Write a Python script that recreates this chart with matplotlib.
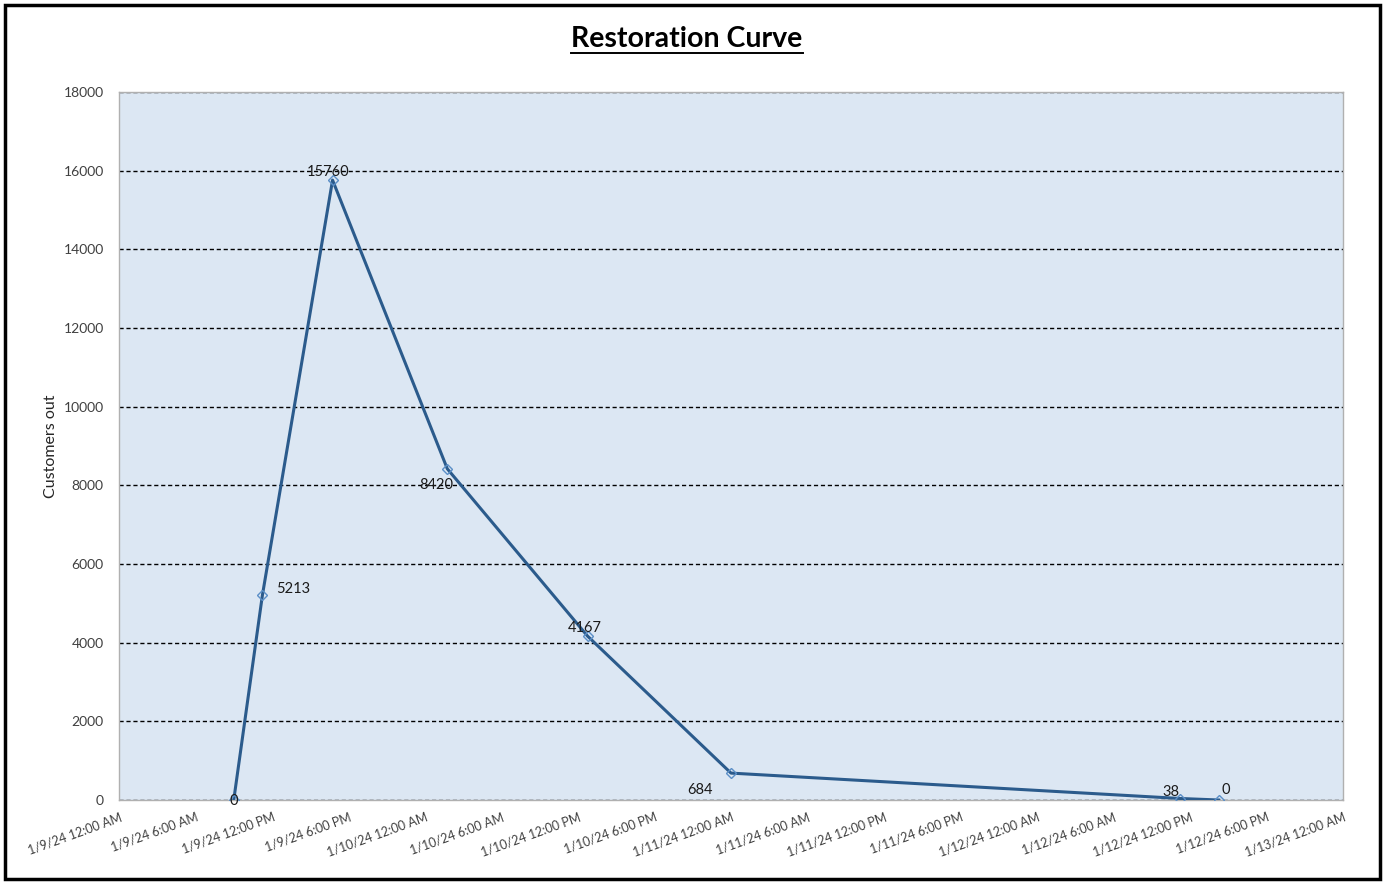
import datetime as dt
import matplotlib
matplotlib.use("Agg")
import matplotlib.pyplot as plt
import matplotlib.dates as mdates
from matplotlib.patches import Rectangle
from matplotlib.lines import Line2D

plt.rcParams['font.family'] = ['Lato', 'DejaVu Sans']

# data
times = [
    dt.datetime(2024, 1, 9, 9, 0),
    dt.datetime(2024, 1, 9, 11, 15),
    dt.datetime(2024, 1, 9, 16, 45),
    dt.datetime(2024, 1, 10, 1, 45),
    dt.datetime(2024, 1, 10, 12, 45),
    dt.datetime(2024, 1, 11, 0, 0),
    dt.datetime(2024, 1, 12, 11, 15),
    dt.datetime(2024, 1, 12, 14, 15),
]
customers_out = [0, 5213, 15760, 8420, 4167, 684, 38, 0]
# label offsets in points (dx, dy) to mimic the Excel placement
label_offsets = [(0, -1), (22, 4), (-3, 6), (-8, -12), (-2, 6), (-22, -12), (-7, 5), (5, 7)]

x_start = dt.datetime(2024, 1, 9, 0, 0)
x_end = dt.datetime(2024, 1, 13, 0, 0)
y_ticks = list(range(0, 18001, 2000))

line_color = '#2B5B8C'
marker_edge = '#5B8FC7'
plot_bg = '#DCE7F3'


def fmt_date(x, pos=None):
    d = mdates.num2date(x)
    hour = d.hour % 12
    if hour == 0:
        hour = 12
    ampm = 'AM' if d.hour < 12 else 'PM'
    return f"{d.month}/{d.day}/{d.strftime('%y')} {hour}:{d.minute:02d} {ampm}"


fig = plt.figure(figsize=(13.85, 8.82), dpi=100)
ax = fig.add_axes([119 / 1385, 1 - 800 / 882, (1343 - 119) / 1385, (800 - 92) / 882])
ax.set_facecolor(plot_bg)

ax.plot(times, customers_out, color=line_color, lw=2.2, marker='D', ms=5,
        mfc='none', mec=marker_edge, mew=1.0, zorder=3)

for t, v, (dx, dy) in zip(times, customers_out, label_offsets):
    ax.annotate(str(v), (mdates.date2num(t), v), xytext=(dx, dy),
                textcoords='offset points', ha='center', va='center',
                fontsize=10.5, color='#1a1a1a', zorder=4)

ax.set_xlim(x_start, x_end)
ax.set_ylim(0, 18000)
ax.set_yticks(y_ticks)
ax.xaxis.set_major_locator(mdates.HourLocator(byhour=[0, 6, 12, 18]))
ax.xaxis.set_major_formatter(plt.FuncFormatter(fmt_date))

for lbl in ax.get_xticklabels():
    lbl.set_rotation(20)
    lbl.set_ha('right')
    lbl.set_rotation_mode('anchor')
ax.tick_params(axis='x', length=0, labelsize=9, colors='#404040', pad=8)
ax.tick_params(axis='y', length=0, labelsize=10, colors='#404040', pad=11)

ax.grid(axis='y', color='black', linestyle=(0, (3, 2)), lw=1.0)
ax.set_axisbelow(True)
for s in ax.spines.values():
    s.set_color('#B0B0B0')
    s.set_linewidth(1.0)

ax.set_ylabel('Customers out', fontsize=11.5, color='#262626', labelpad=4)

title = fig.text(687 / 1385, 1 - 39 / 882, 'Restoration Curve', ha='center', va='center',
                 fontsize=20.5, fontweight='bold', color='black')

# underline the title
fig.canvas.draw()
bb = title.get_window_extent(fig.canvas.get_renderer())
fx0, fx1 = bb.x0 / fig.bbox.width, bb.x1 / fig.bbox.width
fy = (bb.y0 - 1) / fig.bbox.height
fig.add_artist(Line2D([fx0, fx1], [fy, fy], color='black', lw=1.4, transform=fig.transFigure))

# outer chart frame
fig.add_artist(Rectangle((5 / 1385, 3 / 882), 1375 / 1385, 874 / 882, fill=False,
                         edgecolor='black', lw=2.5, transform=fig.transFigure))

fig.savefig('out.png', dpi=100)
